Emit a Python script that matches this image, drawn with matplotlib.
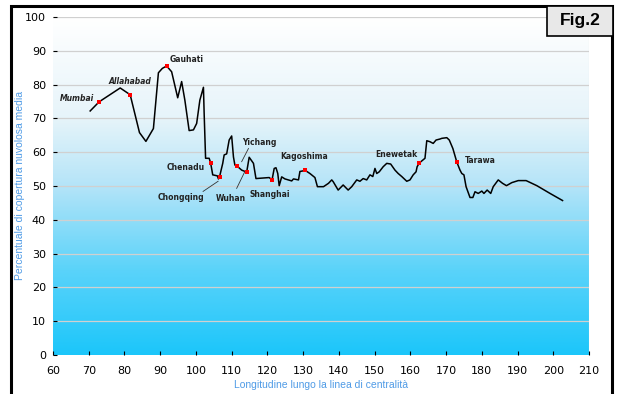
import matplotlib
matplotlib.use("Agg")
import matplotlib.pyplot as plt
import numpy as np
from matplotlib.colors import LinearSegmentedColormap
from matplotlib.patches import Rectangle

# longitude along the centre line / mean cloud cover (%)
lon = [70.4, 72.9, 78.8, 81.6, 84.2, 86.0, 88.1, 89.5, 90.6, 91.8, 93.2, 94.9, 96.0,
       96.9, 98.1, 99.3, 100.2, 101.1, 102.1, 102.3, 102.7, 103.7, 104.1, 104.7, 106.0,
       106.3, 106.6, 107.5, 107.9, 108.6, 109.3, 110.0, 110.5, 110.9, 111.5, 112.8, 114.2,
       114.9, 115.3, 116.1, 116.8, 120.5, 121.3, 121.9, 122.4, 122.9, 123.3, 124.0, 124.9,
       126.8, 127.3, 128.7, 129.1, 130.6, 131.9, 133.3, 134.0, 135.7, 137.1, 138.0, 138.4,
       139.8, 141.2, 142.6, 143.6, 145.0, 145.9, 146.8, 147.8, 148.7, 149.5, 150.1, 150.6,
       151.3, 152.4, 153.4, 154.5, 155.7, 156.6, 157.6, 159.0, 159.9, 160.8, 161.6, 161.9,
       162.5, 164.1, 164.6, 165.5, 166.4, 167.2, 168.3, 168.8, 170.2, 170.9, 171.9, 173.0,
       173.9, 174.4, 175.0, 175.6, 176.7, 177.5, 178.1, 179.0, 180.0, 180.6, 181.5, 182.5,
       183.2, 184.6, 185.8, 186.9, 188.4, 190.2, 192.4, 195.4, 199.1, 202.6]
cloud = [72.2, 74.9, 79.0, 77.0, 65.8, 63.2, 67.0, 83.5, 84.8, 85.5, 83.8, 76.1, 80.9,
         75.4, 66.4, 66.6, 68.5, 75.4, 79.2, 71.5, 58.2, 58.2, 56.9, 53.3, 53.0,
         52.1, 52.7, 56.7, 59.2, 59.5, 63.6, 64.8, 58.6, 56.2, 55.9, 54.7, 54.1,
         58.5, 57.9, 56.7, 52.2, 52.5, 51.8, 55.2, 55.4, 53.7, 50.1, 52.7, 52.1,
         51.5, 52.1, 51.8, 54.3, 54.6, 53.7, 52.5, 49.8, 49.8, 50.8, 51.8, 51.3,
         48.8, 50.3, 48.8, 49.8, 51.8, 51.4, 52.2, 51.8, 53.3, 52.8, 55.2, 53.7,
         54.2, 55.7, 56.7, 56.5, 54.7, 53.7, 52.8, 51.4, 51.8, 53.3, 54.2, 55.7,
         56.8, 58.2, 63.4, 63.1, 62.6, 63.6, 63.9, 64.1, 64.3, 63.6, 61.1, 57.1,
         54.7, 53.7, 53.3, 49.8, 46.6, 46.6, 48.3, 47.8, 48.5, 47.8, 48.8, 47.8,
         49.8, 51.8, 50.8, 50.1, 51.0, 51.6, 51.6, 50.1, 47.8, 45.7]

cities = ["Mumbai", "Allahabad", "Gauhati", "Chenadu", "Chongqing", "Yichang",
          "Wuhan", "Shanghai", "Kagoshima", "Enewetak", "Tarawa"]
city_lon = [72.9, 81.6, 91.8, 104.1, 106.6, 111.5, 114.2, 121.3, 130.6, 162.5, 173.0]
city_cloud = [74.9, 77.0, 85.5, 56.9, 52.7, 55.9, 54.1, 51.8, 54.6, 56.8, 57.1]

# label placement: (text x, text y, ha)
label_pos = {
    "Mumbai": (62.0, 76.0, "left"),
    "Allahabad": (75.6, 81.0, "left"),
    "Gauhati": (92.7, 87.3, "left"),
    "Chenadu": (102.6, 55.6, "right"),
    "Chongqing": (102.3, 46.7, "right"),
    "Yichang": (117.7, 63.0, "center"),
    "Wuhan": (109.8, 46.2, "center"),
    "Shanghai": (114.9, 47.6, "left"),
    "Kagoshima": (130.2, 58.6, "center"),
    "Enewetak": (156.0, 59.2, "center"),
    "Tarawa": (175.3, 57.4, "left"),
}
leaders = {
    "Chongqing": ((102.0, 48.4), (106.2, 51.4)),
    "Yichang": ((114.7, 61.1), (112.8, 57.2)),
    "Wuhan": ((111.4, 49.3), (113.7, 54.3)),
}

fig = plt.figure(figsize=(6.19, 3.94), dpi=100)
ax = fig.add_axes([53 / 619, 1 - 355 / 394, 536 / 619, 338 / 394])

# background gradient white -> cyan
sky = LinearSegmentedColormap.from_list(
    "sky", [(0.0, "#1cc6fa"), (0.25, "#5ad3fa"), (0.5, "#b4e4f8"),
            (0.7, "#e6f4fa"), (1.0, "#ffffff")])
grad = np.linspace(0, 1, 256).reshape(-1, 1)
ax.imshow(grad, cmap=sky, origin="lower", aspect="auto",
          extent=[60, 210, 0, 100], zorder=0)

for v in range(10, 101, 10):
    ax.axhline(v, color="#d0d0d0", lw=0.9, zorder=1)
ax.axvline(210, color="#d8d8d8", lw=0.8, zorder=1)

ax.plot(lon, cloud, color="black", lw=1.1, zorder=3)
ax.scatter(city_lon, city_cloud, marker="s", s=10, color="red", zorder=4, linewidths=0)

for name in cities:
    tx, ty, ha = label_pos[name]
    ax.text(tx, ty, name, fontsize=5.5, ha=ha, va="center", color="#222222",
            fontweight="bold", style="italic" if name in ("Mumbai", "Allahabad") else "normal",
            zorder=5)
for name, (p0, p1) in leaders.items():
    ax.plot([p0[0], p1[0]], [p0[1], p1[1]], color="#333333", lw=0.6, zorder=3)

ax.set_xlim(60, 210)
ax.set_ylim(0, 100)
ax.set_xticks(range(60, 211, 10))
ax.set_yticks(range(0, 101, 10))
ax.tick_params(direction="in", length=3, width=0.8, labelsize=8, colors="black")
ax.tick_params(axis="x", pad=8)
ax.tick_params(axis="y", pad=5)
for s in ax.spines.values():
    s.set_visible(False)

ax.set_xlabel("Longitudine lungo la linea di centralità", color="#4f9be6",
              fontsize=7.5, family="Liberation Sans")
ax.set_ylabel("Percentuale di copertura nuvolosa media", color="#4f9be6",
              fontsize=7.5, family="Liberation Sans")
ax.xaxis.set_label_coords(0.5, -25 / 338)
ax.yaxis.set_label_coords(-28 / 536, 0.5)

# outer frame and figure tag
W, H = 619, 394
fig.patches.append(Rectangle((11 / W, -0.1), 601 / W, 1.1 - 6 / H, transform=fig.transFigure,
                             fill=False, edgecolor="black", lw=2.2, zorder=10))
fig.patches.append(Rectangle((547 / W, 1 - 36 / H), 66 / W, 30 / H, transform=fig.transFigure,
                             facecolor="#e8e8e8", edgecolor="black", lw=1.2, zorder=11))
fig.text(580 / W, 1 - 21 / H, "Fig.2", fontsize=12.5, fontweight="bold",
         family="Liberation Sans", ha="center", va="center", zorder=12)

fig.savefig("out.png", dpi=100)
